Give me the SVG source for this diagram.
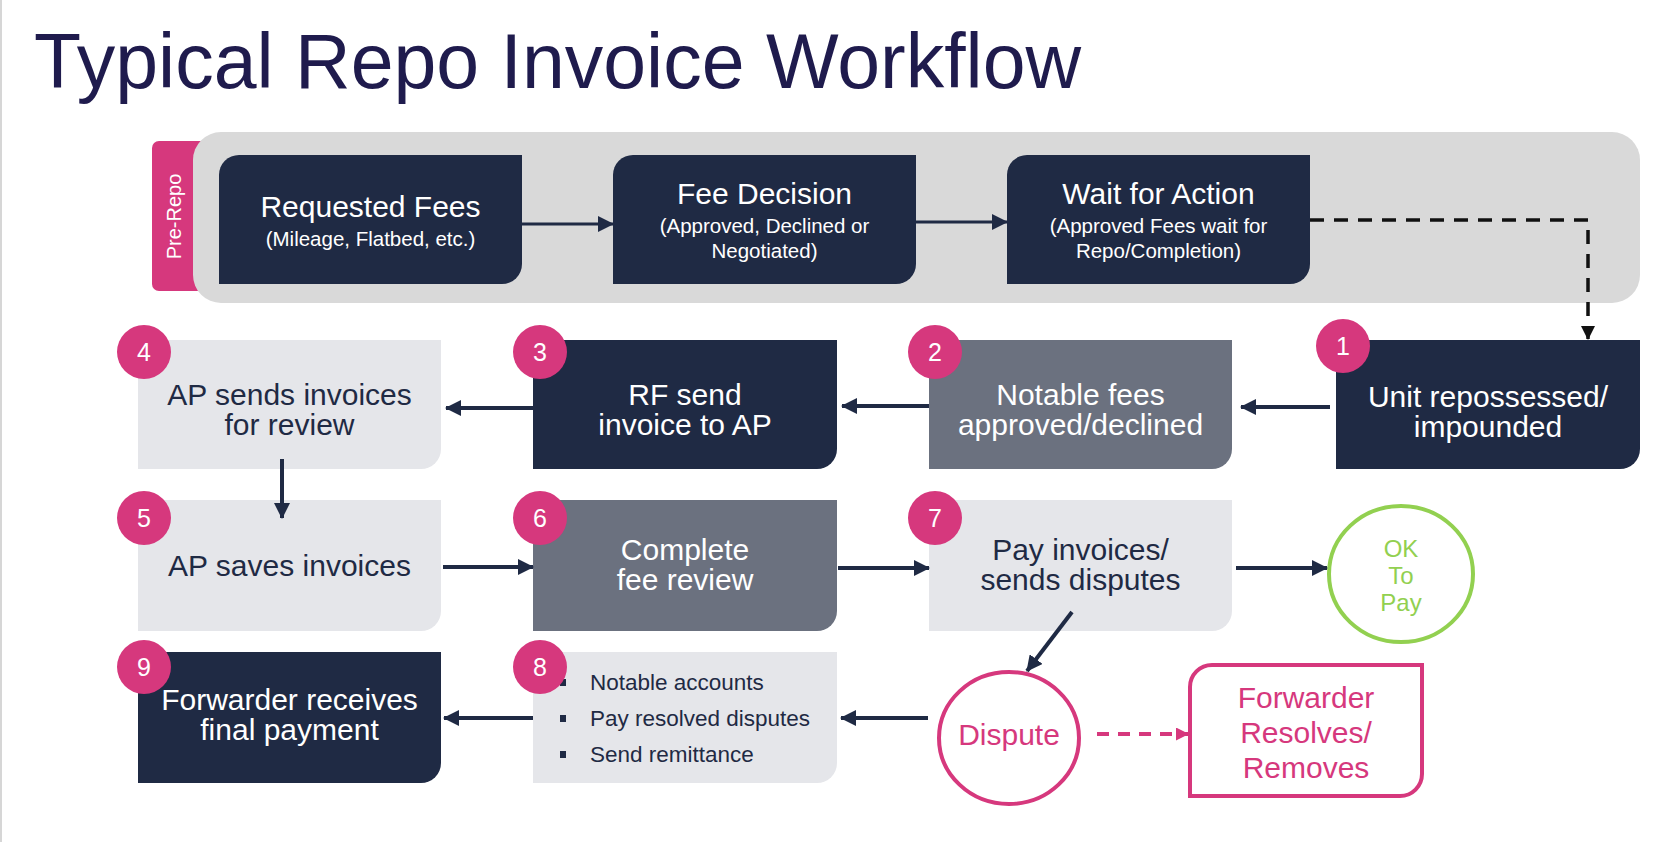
<svg xmlns="http://www.w3.org/2000/svg" width="1680" height="842" viewBox="0 0 1680 842">
<style>
text{font-family:"Liberation Sans",Arial,sans-serif}
.navy{fill:#1f2a44}
.slate{fill:#6b717f}
.light{fill:#e5e6ea}
.ttl{font-size:30px;fill:#fff;text-anchor:middle}
.sub{font-size:20.5px;fill:#fff;text-anchor:middle}
.w{font-size:30px;fill:#fff;text-anchor:middle}
.d{font-size:30px;fill:#1f2a44;text-anchor:middle}
.badge{fill:#d6387d}
.bn{font-size:25px;fill:#fff;text-anchor:middle}
.ln{fill:none;stroke:#1f2a44;stroke-width:4}
.bul{font-size:22.5px;fill:#1f2a44}
.pk{font-size:30px;fill:#d6387d;text-anchor:middle}
.ok{font-size:24px;fill:#92d050;text-anchor:middle}
</style>
<defs>
<marker id="an" markerUnits="userSpaceOnUse" markerWidth="16" markerHeight="16" refX="15" refY="8" orient="auto"><path d="M0,0 L16,8 L0,16 Z" fill="#1f2a44"/></marker>
<marker id="ab" markerUnits="userSpaceOnUse" markerWidth="14" markerHeight="14" refX="13" refY="7" orient="auto"><path d="M0,0 L14,7 L0,14 Z" fill="#111"/></marker>
<marker id="ap" markerUnits="userSpaceOnUse" markerWidth="13" markerHeight="13" refX="12" refY="6.5" orient="auto"><path d="M0,0 L13,6.5 L0,13 Z" fill="#d6387d"/></marker>
</defs>
<rect x="0" y="0" width="1680" height="842" fill="#fff"/>
<rect x="0" y="0" width="2" height="842" fill="#d6d6d6"/>
<text x="34" y="88" font-size="77" fill="#1f1b4d">Typical Repo Invoice Workflow</text>

<g id="pre-repo">
<rect x="152" y="141" width="60" height="150" rx="7" fill="#d6387d"/>
<rect x="193" y="132" width="1447" height="171" rx="28" fill="#d9d9d9"/>
<text transform="translate(181,216.5) rotate(-90)" font-size="20" fill="#fff" text-anchor="middle">Pre-Repo</text>
</g>

<g id="requested-fees">
<path class="navy" d="M239,155 H522 V264 A20,20 0 0 1 502,284 H219 V175 A20,20 0 0 1 239,155 Z"/>
<text class="ttl" x="370.5" y="217">Requested Fees</text>
<text class="sub" x="370.5" y="246">(Mileage, Flatbed, etc.)</text>
</g>
<g id="fee-decision">
<path class="navy" d="M633,155 H916 V264 A20,20 0 0 1 896,284 H613 V175 A20,20 0 0 1 633,155 Z"/>
<text class="ttl" x="764.5" y="204">Fee Decision</text>
<text class="sub" x="764.5" y="233">(Approved, Declined or</text>
<text class="sub" x="764.5" y="258">Negotiated)</text>
</g>
<g id="wait-for-action">
<path class="navy" d="M1027,155 H1310 V264 A20,20 0 0 1 1290,284 H1007 V175 A20,20 0 0 1 1027,155 Z"/>
<text class="ttl" x="1158.5" y="204">Wait for Action</text>
<text class="sub" x="1158.5" y="233">(Approved Fees wait for</text>
<text class="sub" x="1158.5" y="258">Repo/Completion)</text>
</g>

<g id="step1">
<path class="navy" d="M1336,340 H1640 V449 A20,20 0 0 1 1620,469 H1336 Z"/>
<text class="w" x="1488" y="407">Unit repossessed/</text>
<text class="w" x="1488" y="437">impounded</text>
<circle class="badge" cx="1343" cy="346" r="27"/>
<text class="bn" x="1343" y="355">1</text>
</g>
<g id="step2">
<path class="slate" d="M929,340 H1232 V449 A20,20 0 0 1 1212,469 H929 Z"/>
<text class="w" x="1080.5" y="405">Notable fees</text>
<text class="w" x="1080.5" y="435">approved/declined</text>
<circle class="badge" cx="935" cy="352" r="27"/>
<text class="bn" x="935" y="361">2</text>
</g>
<g id="step3">
<path class="navy" d="M533,340 H837 V449 A20,20 0 0 1 817,469 H533 Z"/>
<text class="w" x="685" y="405">RF send</text>
<text class="w" x="685" y="435">invoice to AP</text>
<circle class="badge" cx="540" cy="352" r="27"/>
<text class="bn" x="540" y="361">3</text>
</g>
<g id="step4">
<path class="light" d="M138,340 H441 V449 A20,20 0 0 1 421,469 H138 Z"/>
<text class="d" x="289.5" y="405">AP sends invoices</text>
<text class="d" x="289.5" y="435">for review</text>
<circle class="badge" cx="144" cy="352" r="27"/>
<text class="bn" x="144" y="361">4</text>
</g>
<g id="step5">
<path class="light" d="M138,500 H441 V611 A20,20 0 0 1 421,631 H138 Z"/>
<text class="d" x="289.5" y="576">AP saves invoices</text>
<circle class="badge" cx="144" cy="518" r="27"/>
<text class="bn" x="144" y="527">5</text>
</g>
<g id="step6">
<path class="slate" d="M533,500 H837 V611 A20,20 0 0 1 817,631 H533 Z"/>
<text class="w" x="685" y="560">Complete</text>
<text class="w" x="685" y="590">fee review</text>
<circle class="badge" cx="540" cy="518" r="27"/>
<text class="bn" x="540" y="527">6</text>
</g>
<g id="step7">
<path class="light" d="M929,500 H1232 V611 A20,20 0 0 1 1212,631 H929 Z"/>
<text class="d" x="1080.5" y="560">Pay invoices/</text>
<text class="d" x="1080.5" y="590">sends disputes</text>
<circle class="badge" cx="935" cy="518" r="27"/>
<text class="bn" x="935" y="527">7</text>
</g>
<g id="ok-to-pay">
<ellipse cx="1401" cy="574" rx="72" ry="68" fill="#fff" stroke="#92d050" stroke-width="4"/>
<text class="ok" x="1401" y="557">OK</text>
<text class="ok" x="1401" y="584">To</text>
<text class="ok" x="1401" y="611">Pay</text>
</g>
<g id="step8">
<path class="light" d="M533,652 H837 V763 A20,20 0 0 1 817,783 H533 Z"/>
<rect x="560" y="679" width="6" height="7" fill="#1f2a44"/>
<rect x="560" y="715" width="6" height="7" fill="#1f2a44"/>
<rect x="560" y="751" width="6" height="7" fill="#1f2a44"/>
<text class="bul" x="590" y="690">Notable accounts</text>
<text class="bul" x="590" y="726">Pay resolved disputes</text>
<text class="bul" x="590" y="762">Send remittance</text>
<circle class="badge" cx="540" cy="667" r="27"/>
<text class="bn" x="540" y="676">8</text>
</g>
<g id="step9">
<path class="navy" d="M138,652 H441 V763 A20,20 0 0 1 421,783 H138 Z"/>
<text class="w" x="289.5" y="710">Forwarder receives</text>
<text class="w" x="289.5" y="740">final payment</text>
<circle class="badge" cx="144" cy="667" r="27"/>
<text class="bn" x="144" y="676">9</text>
</g>
<g id="dispute">
<ellipse cx="1009" cy="738" rx="70" ry="66" fill="#fff" stroke="#d6387d" stroke-width="4"/>
<text class="pk" x="1009" y="745">Dispute</text>
</g>
<g id="forwarder-resolves">
<path d="M1212,665 H1422 V774 A22,22 0 0 1 1400,796 H1190 V687 A22,22 0 0 1 1212,665 Z" fill="#fff" stroke="#d6387d" stroke-width="4"/>
<text class="pk" x="1306" y="708">Forwarder</text>
<text class="pk" x="1306" y="743">Resolves/</text>
<text class="pk" x="1306" y="778">Removes</text>
</g>

<g id="connectors">
<path d="M522,224 H613" fill="none" stroke="#1f2a44" stroke-width="3" marker-end="url(#an)"/>
<path d="M916,222 H1007" fill="none" stroke="#1f2a44" stroke-width="3" marker-end="url(#an)"/>
<path d="M1310,220 H1588 V339" fill="none" stroke="#111" stroke-width="3.5" stroke-dasharray="14 10" stroke-linejoin="round" marker-end="url(#ab)"/>
<path class="ln" d="M1330,407 H1241" marker-end="url(#an)"/>
<path class="ln" d="M929,406 H842" marker-end="url(#an)"/>
<path class="ln" d="M533,408 H446" marker-end="url(#an)"/>
<path class="ln" d="M282,459 V518" marker-end="url(#an)"/>
<path class="ln" d="M443,567 H533" marker-end="url(#an)"/>
<path class="ln" d="M838,568 H929" marker-end="url(#an)"/>
<path class="ln" d="M1236,568 H1327" marker-end="url(#an)"/>
<path class="ln" d="M1072,612 L1027,671" marker-end="url(#an)"/>
<path class="ln" d="M928,718 H841" marker-end="url(#an)"/>
<path class="ln" d="M533,718 H444" marker-end="url(#an)"/>
<path d="M1097,734 H1188" fill="none" stroke="#d6387d" stroke-width="4" stroke-dasharray="12 9" marker-end="url(#ap)"/>
</g>
</svg>
